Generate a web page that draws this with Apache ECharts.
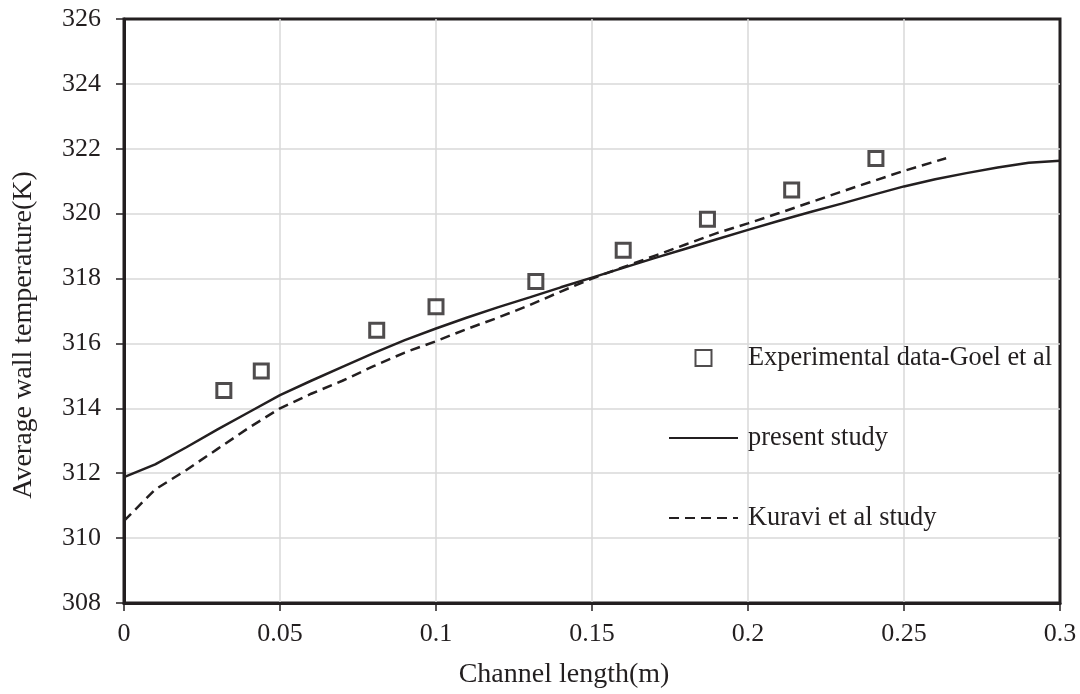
<!DOCTYPE html>
<html>
<head>
<meta charset="utf-8">
<script src="https://cdn.jsdelivr.net/npm/echarts@6/dist/echarts.min.js"></script>
<style>html,body{margin:0;padding:0;background:#fff}#c{width:1080px;height:694px}</style>
</head>
<body>
<div id="c"></div>
<script>
// Experimental data (Goel et al)
const expX = [0.032, 0.044, 0.081, 0.1, 0.132, 0.16, 0.187, 0.214, 0.241];
const expY = [314.55, 315.15, 316.41, 317.13, 317.91, 318.87, 319.83, 320.73, 321.70];
// Present study (solid)
const presX = [0, 0.01, 0.02, 0.03, 0.04, 0.05, 0.06, 0.07, 0.08, 0.09, 0.1, 0.11, 0.12, 0.13, 0.14, 0.15, 0.16, 0.17, 0.18, 0.19, 0.2, 0.21, 0.22, 0.23, 0.24, 0.25, 0.26, 0.27, 0.28, 0.29, 0.3];
const presY = [311.88, 312.27, 312.8, 313.35, 313.88, 314.41, 314.85, 315.28, 315.7, 316.1, 316.46, 316.8, 317.12, 317.42, 317.73, 318.03, 318.33, 318.63, 318.92, 319.21, 319.5, 319.78, 320.05, 320.31, 320.58, 320.84, 321.06, 321.25, 321.42, 321.57, 321.63];
// Kuravi et al study (dashed)
const kurX = [0, 0.01, 0.02, 0.03, 0.04, 0.05, 0.06, 0.07, 0.08, 0.09, 0.1, 0.11, 0.12, 0.13, 0.14, 0.15, 0.16, 0.17, 0.18, 0.19, 0.2, 0.21, 0.22, 0.23, 0.24, 0.25, 0.2635];
const kurY = [310.53, 311.5, 312.1, 312.75, 313.4, 314.0, 314.45, 314.85, 315.3, 315.72, 316.07, 316.45, 316.8, 317.18, 317.6, 318.0, 318.35, 318.7, 319.05, 319.4, 319.7, 320.02, 320.35, 320.68, 321.0, 321.32, 321.71];
const seriesNames = ['Experimental data-Goel et al', 'present study', 'Kuravi et al study'];
const xTitle = 'Channel length(m)';
const yTitle = 'Average wall temperature(K)';

const zip = (a, b) => a.map((v, i) => [v, b[i]]);
const ink = '#231f20';
const font = 'Liberation Serif, Times New Roman, serif';

const chart = echarts.init(document.getElementById('c'));
chart.setOption({
  animation: false,
  backgroundColor: '#fff',
  grid: { left: 124, right: 20, top: 19, bottom: 88, show: true, borderColor: ink, borderWidth: 3, containLabel: false },
  xAxis: {
    type: 'value', min: 0, max: 0.3, interval: 0.05,
    name: xTitle, nameLocation: 'middle', nameGap: 58,
    nameTextStyle: { fontFamily: font, fontSize: 28, color: ink, padding: [0, 56, 0, 0] },
    axisLine: { show: true, lineStyle: { color: ink, width: 3 } },
    axisTick: { show: true, length: 8, lineStyle: { color: ink, width: 1.5 } },
    axisLabel: { fontFamily: font, fontSize: 26, color: ink, margin: 18 },
    splitLine: { show: true, showMinLine: false, showMaxLine: false, lineStyle: { color: '#d9d9d9', width: 1.5 } }
  },
  yAxis: {
    type: 'value', min: 308, max: 326, interval: 2,
    axisLine: { show: true, lineStyle: { color: ink, width: 3 } },
    axisTick: { show: true, length: 8, lineStyle: { color: ink, width: 1.5 } },
    axisLabel: { fontFamily: font, fontSize: 26, color: ink, margin: 23 },
    splitLine: { show: true, showMinLine: false, showMaxLine: false, lineStyle: { color: '#d9d9d9', width: 1.5 } }
  },
  graphic: [{
    type: 'text', x: 24, y: 335, rotation: Math.PI / 2,
    style: { text: yTitle, font: '28px ' + font, fill: ink, align: 'center', verticalAlign: 'middle' }
  }],
  legend: {
    orient: 'vertical', left: 668, top: 345, itemGap: 54, padding: 0,
    itemWidth: 69, itemHeight: 16, symbolKeepAspect: true,
    textStyle: { fontFamily: font, fontSize: 26.4, color: ink, padding: [0, 0, 0, 5] },
    data: [
      { name: seriesNames[0], icon: 'path://M0,0H10V10H0Z' },
      { name: seriesNames[1], itemStyle: { opacity: 0 } },
      { name: seriesNames[2], itemStyle: { opacity: 0 } }
    ]
  },
  series: [
    {
      name: seriesNames[0], type: 'scatter', data: zip(expX, expY),
      symbol: 'rect', symbolSize: 14,
      itemStyle: { color: '#fff', borderColor: ink, borderWidth: 3 }, z: 5
    },
    {
      name: seriesNames[1], type: 'line', data: zip(presX, presY),
      symbol: 'none', showSymbol: false,
      lineStyle: { color: ink, width: 2.5 }, itemStyle: { color: ink }
    },
    {
      name: seriesNames[2], type: 'line', data: zip(kurX, kurY),
      symbol: 'none', showSymbol: false,
      lineStyle: { color: ink, width: 2.5, type: [10, 6] }, itemStyle: { color: ink }
    }
  ]
});
</script>
</body>
</html>
